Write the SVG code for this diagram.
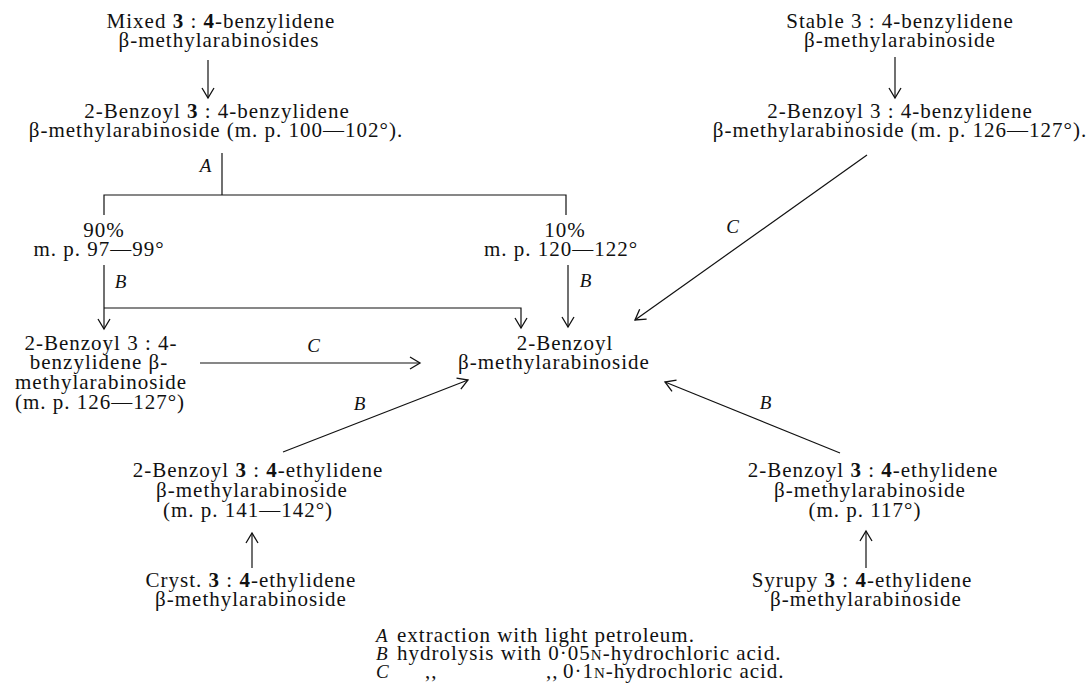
<svg xmlns="http://www.w3.org/2000/svg" width="1090" height="685" viewBox="0 0 1090 685">
<style>
.t{font-family:"Liberation Serif","Times New Roman",serif;font-size:21px;letter-spacing:1px;fill:#111;text-anchor:middle}
.s{text-anchor:start}
.i{font-style:italic;font-size:19px}
.b{font-weight:bold}
.sc{font-size:15px}
.ln{stroke:#111;stroke-width:1.2;fill:none}
</style>
<defs>
<marker id="ah" markerWidth="14" markerHeight="14" refX="0" refY="0" viewBox="-12 -7 14 14" orient="auto" markerUnits="userSpaceOnUse">
<path d="M-10,-6 L0,0 L-10,6" stroke="#111" stroke-width="1.3" fill="none"/>
</marker>
</defs>
<rect width="1090" height="685" fill="#fff"/>

<g id="connectors">
<line class="ln" x1="208" y1="60" x2="208" y2="98" marker-end="url(#ah)"/>
<line class="ln" x1="895" y1="57" x2="895" y2="98" marker-end="url(#ah)"/>
<line class="ln" x1="222" y1="153" x2="222" y2="195"/>
<polyline class="ln" points="104,215 104,195 566,195 566,215"/>
<line class="ln" x1="104" y1="265" x2="104" y2="329" marker-end="url(#ah)"/>
<polyline class="ln" points="104,308 521,308 521,328" marker-end="url(#ah)"/>
<line class="ln" x1="568" y1="265" x2="568" y2="327" marker-end="url(#ah)"/>
<line class="ln" x1="200" y1="363" x2="420" y2="363" marker-end="url(#ah)"/>
<line class="ln" x1="867" y1="155" x2="635" y2="320" marker-end="url(#ah)"/>
<line class="ln" x1="283" y1="452" x2="468" y2="380" marker-end="url(#ah)"/>
<line class="ln" x1="840" y1="453" x2="665" y2="382" marker-end="url(#ah)"/>
<line class="ln" x1="252" y1="568" x2="252" y2="533" marker-end="url(#ah)"/>
<line class="ln" x1="866" y1="568" x2="866" y2="531" marker-end="url(#ah)"/>
<text class="t i" x="206" y="172">A</text>
<text class="t i" x="121" y="288">B</text>
<text class="t i" x="586" y="287">B</text>
<text class="t i" x="314" y="352">C</text>
<text class="t i" x="733" y="233">C</text>
<text class="t i" x="360" y="410">B</text>
<text class="t i" x="766" y="409">B</text>
</g>

<g id="mixed">
<text class="t"><tspan x="221" y="28">Mixed <tspan class="b">3</tspan> : <tspan class="b">4</tspan>-benzylidene</tspan><tspan x="219" y="47">β-methylarabinosides</tspan></text>
</g>
<g id="benzoyl-100">
<text class="t"><tspan x="217" y="118">2-Benzoyl <tspan class="b">3</tspan> : 4-benzylidene</tspan><tspan x="216" y="137">β-methylarabinoside (m. p. 100—102°).</tspan></text>
</g>
<g id="stable">
<text class="t"><tspan x="900" y="28">Stable 3 : 4-benzylidene</tspan><tspan x="900" y="47">β-methylarabinoside</tspan></text>
</g>
<g id="benzoyl-126-top">
<text class="t"><tspan x="900" y="118">2-Benzoyl 3 : 4-benzylidene</tspan><tspan x="900" y="137">β-methylarabinoside (m. p. 126—127°).</tspan></text>
</g>
<g id="frac90">
<text class="t"><tspan x="104" y="237">90%</tspan><tspan x="99" y="256">m. p. 97—99°</tspan></text>
</g>
<g id="frac10">
<text class="t"><tspan x="565" y="237">10%</tspan><tspan x="561" y="256">m. p. 120—122°</tspan></text>
</g>
<g id="benzoyl-126-left">
<text class="t"><tspan x="101" y="350">2-Benzoyl 3 : 4-</tspan><tspan x="99" y="369">benzylidene β-</tspan><tspan x="101" y="389">methylarabinoside</tspan><tspan x="100" y="409">(m. p. 126—127°)</tspan></text>
</g>
<g id="benzoyl-methyl">
<text class="t"><tspan x="565" y="350">2-Benzoyl</tspan><tspan x="554" y="369">β-methylarabinoside</tspan></text>
</g>
<g id="ethylidene-141">
<text class="t"><tspan x="258" y="477">2-Benzoyl <tspan class="b">3</tspan> : <tspan class="b">4</tspan>-ethylidene</tspan><tspan x="252" y="497">β-methylarabinoside</tspan><tspan x="248" y="517">(m. p. 141—142°)</tspan></text>
</g>
<g id="cryst">
<text class="t"><tspan x="251" y="587">Cryst. <tspan class="b">3</tspan> : <tspan class="b">4</tspan>-ethylidene</tspan><tspan x="251" y="606">β-methylarabinoside</tspan></text>
</g>
<g id="ethylidene-117">
<text class="t"><tspan x="873" y="477">2-Benzoyl <tspan class="b">3</tspan> : <tspan class="b">4</tspan>-ethylidene</tspan><tspan x="870" y="497">β-methylarabinoside</tspan><tspan x="865" y="517">(m. p. 117°)</tspan></text>
</g>
<g id="syrupy">
<text class="t"><tspan x="862" y="587">Syrupy <tspan class="b">3</tspan> : <tspan class="b">4</tspan>-ethylidene</tspan><tspan x="866" y="606">β-methylarabinoside</tspan></text>
</g>
<g id="legend">
<text class="t s"><tspan class="i" x="376" y="642">A</tspan><tspan x="397" y="642">extraction with light petroleum.</tspan><tspan class="i" x="376" y="660">B</tspan><tspan x="397" y="660">hydrolysis with 0·05<tspan class="sc">N</tspan>-hydrochloric acid.</tspan><tspan class="i" x="376" y="678">C</tspan><tspan x="425" y="678">,,</tspan><tspan x="546" y="678">,,</tspan><tspan x="563" y="678">0·1<tspan class="sc">N</tspan>-hydrochloric acid.</tspan></text>
</g>
</svg>
